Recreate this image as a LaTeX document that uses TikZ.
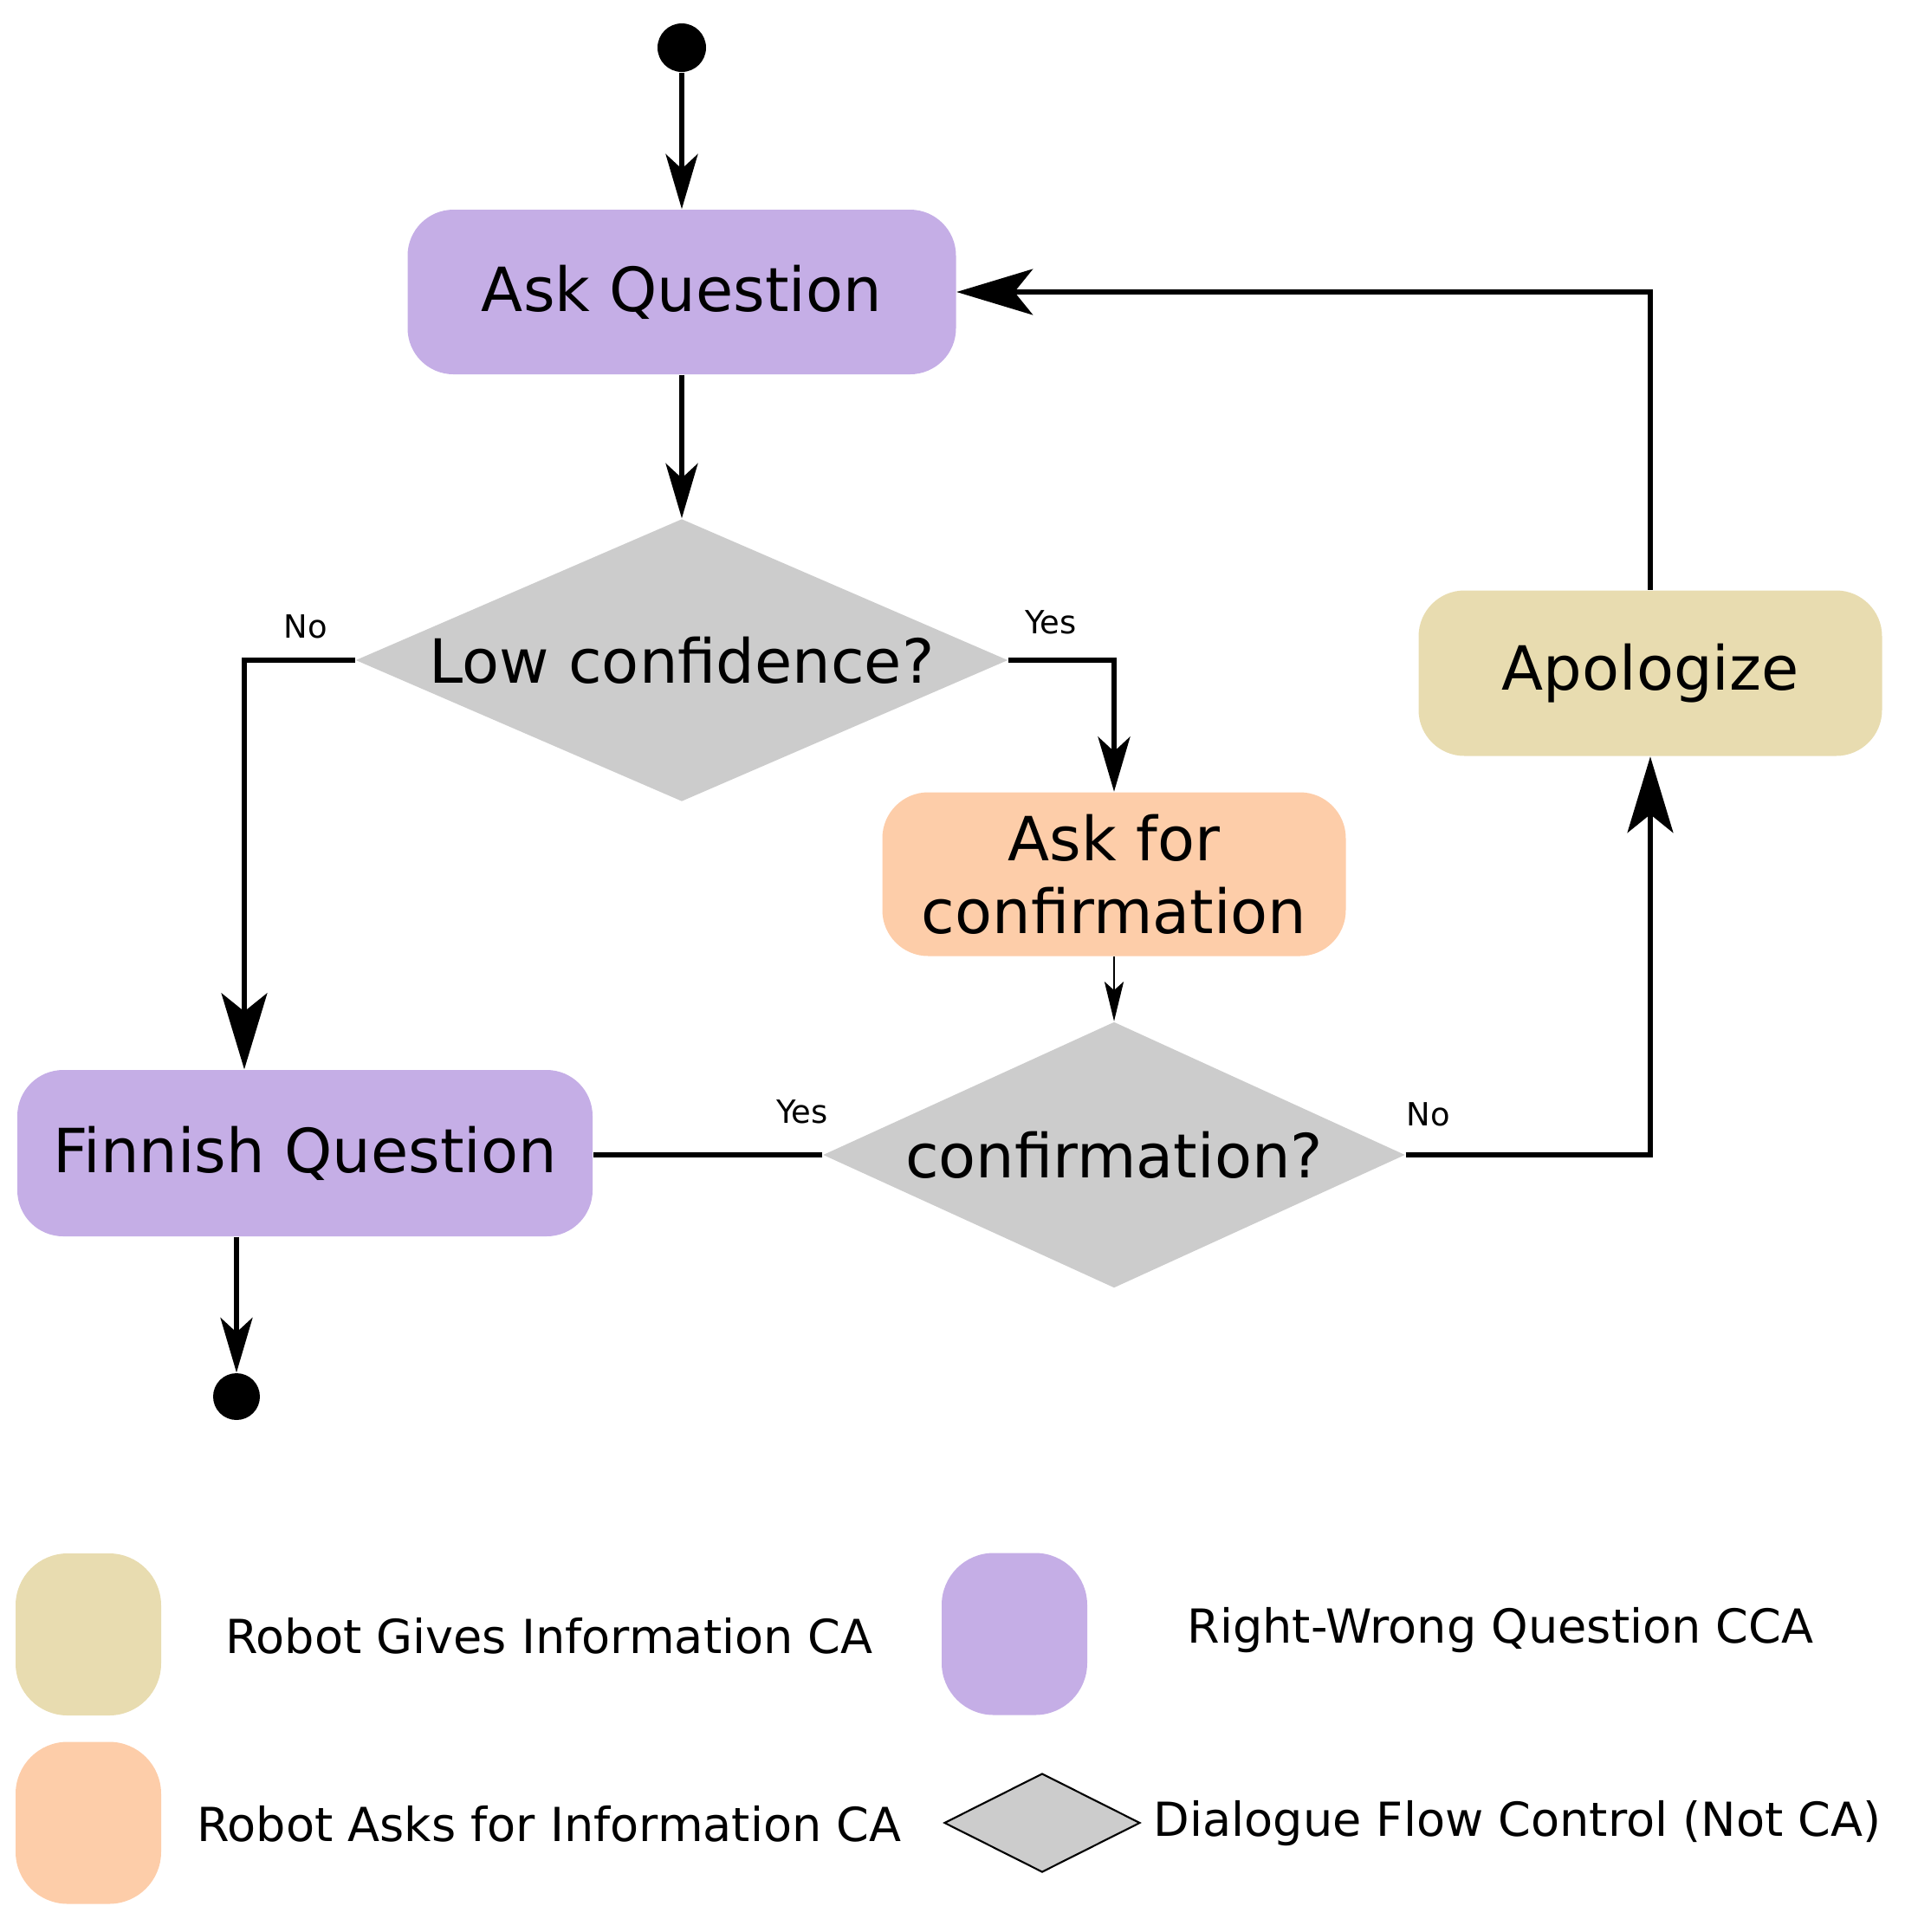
\documentclass[tikz,border=0pt]{standalone}
\usepackage{fontspec}
\setmainfont{DejaVu Sans}
\usetikzlibrary{calc,positioning}
\usetikzlibrary{shapes.geometric,arrows.meta}
\definecolor{lilac}{HTML}{C5AEE6}
\definecolor{sand}{HTML}{E8DCB0}
\definecolor{peach}{HTML}{FDCDA9}
\definecolor{stone}{HTML}{CCCCCC}

\begin{document}
\begin{tikzpicture}[
  box/.style={rectangle,rounded corners=0.53cm,inner sep=0pt,align=center,font=\fontsize{20}{24}\selectfont},
  decision/.style={diamond,fill=stone,inner sep=0pt,font=\fontsize{20}{24}\selectfont},
  dot/.style={circle,fill=black,inner sep=0pt,minimum size=0.56cm},
  flow/.style={line width=1.8pt},
  arr/.style={flow,-{Stealth[length=18pt,width=10.5pt,inset=4.8pt]}},
  bigarr/.style={flow,-{Stealth[length=25pt,width=15pt,inset=6pt]}},
  thinarr/.style={line width=0.65pt,-{Stealth[length=13pt,width=6.3pt,inset=2.8pt]}},
  lbl/.style={font=\fontsize{10.5}{12}\selectfont},
  key/.style={rectangle,rounded corners=0.6cm,minimum width=1.68cm,minimum height=1.87cm},
  keytext/.style={font=\fontsize{15.4}{18}\selectfont}
]
\useasboundingbox (0,0) rectangle (21.99,-22.30);

\node[dot] (start) at (7.87,-0.55) {};
\node[box,fill=lilac,minimum width=6.33cm,minimum height=1.90cm] (ask) at (7.87,-3.37) {Ask Question};
\node[decision,aspect=2.31,minimum width=7.53cm,minimum height=3.26cm] (low) at (7.87,-7.62) {Low confidence?};
\node[box,fill=peach,minimum width=5.35cm,minimum height=1.89cm] (conf) at (12.86,-10.09) {Ask for\\confirmation};
\node[decision,aspect=2.19,minimum width=6.72cm,minimum height=3.07cm] (check) at (12.86,-13.33) {confirmation?};
\node[box,fill=lilac,minimum width=6.64cm,minimum height=1.92cm] (fin) at (3.52,-13.31) {Finnish Question};
\node[box,fill=sand,minimum width=5.35cm,minimum height=1.91cm] (apol) at (19.05,-7.77) {Apologize};
\node[dot,minimum size=0.54cm] (stop) at (2.73,-16.12) {};

\draw[arr] (start) -- (ask);
\draw[arr] (ask) -- (low);
\draw[bigarr] (low.west) -| ([xshift=-0.7cm]fin.north);
\draw[arr] (low.east) -| (conf.north);
\draw[thinarr] (conf) -- (check);
\draw[flow] (check.west) -- (check.west -| fin.east);
\draw[bigarr] (check.east) -| (apol.south);
\draw[bigarr] (apol.north) |- (ask.east);
\draw[arr] (fin.south -| stop) -- (stop);

\node[lbl] (no1) at (3.53,-7.23) {No};
\node[lbl] (yes1) at (12.13,-7.18) {Yes};
\node[lbl] (yes2) at (9.26,-12.83) {Yes};
\node[lbl] (no2) at (16.49,-12.86) {No};

\node[key,fill=sand] (k1) at (1.02,-18.865) {};
\node[keytext] (t1) at (6.34,-18.88) {Robot Gives Information CA};
\node[key,fill=lilac] (k2) at (11.71,-18.86) {};
\node[keytext] (t2) at (17.32,-18.82) {Right-Wrong Question CCA};
\node[key,fill=peach] (k3) at (1.02,-21.04) {};
\node[keytext] (t3) at (6.34,-21.05) {Robot Asks for Information CA};
\node[diamond,draw,fill=stone,line width=0.6pt,inner sep=0pt,aspect=2,minimum width=2.26cm,minimum height=1.14cm] (k4) at (12.03,-21.04) {};
\node[keytext,anchor=west,inner sep=0pt] (t4) at (13.31,-21.05) {Dialogue Flow Control (Not CA)};
\end{tikzpicture}
\end{document}
